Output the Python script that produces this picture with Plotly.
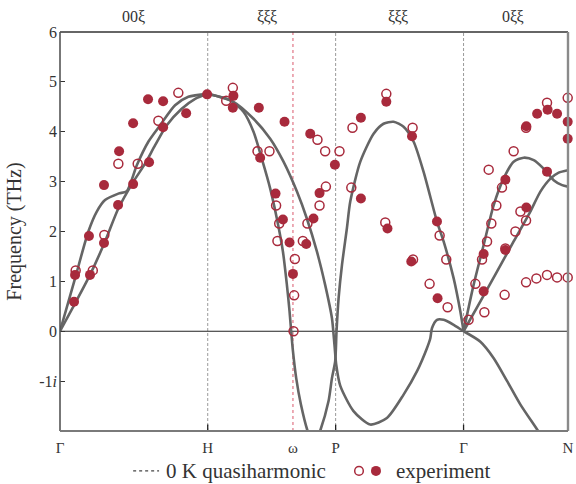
import plotly.graph_objects as go

# High-symmetry points along the bcc path Γ-H-P-Γ-N (cumulative path length, 2π/a)
sym_x = [0.0, 1.0, 1.577, 1.866, 2.732, 3.439]
sym_labels = ["Γ", "H", "ω", "P", "Γ", "N"]
dir_x = [0.495, 1.40, 2.285, 3.07]
dir_labels = ["00ξ", "ξξξ", "ξξξ", "0ξξ"]

# 0 K quasiharmonic branches (imaginary frequencies plotted as negative)
gh_a_x = [0, 0.102, 0.192, 0.249, 0.305, 0.395, 0.452, 0.520, 0.598, 0.678, 0.779, 0.869, 1.0]
gh_a_f = [0, 1.06, 2.00, 2.40, 2.63, 2.76, 2.81, 3.33, 3.80, 4.13, 4.53, 4.70, 4.76]
gh_b_x = [0, 0.102, 0.203, 0.305, 0.395, 0.497, 0.576, 0.644, 0.723, 0.824, 0.915, 1.0]
gh_b_f = [0, 0.56, 1.13, 1.80, 2.46, 3.00, 3.36, 3.73, 4.13, 4.46, 4.66, 4.76]

long_x = [1.0, 1.152, 1.242, 1.310, 1.369, 1.423, 1.468, 1.509, 1.536, 1.554, 1.565, 1.577,
          1.599, 1.631, 1.675, 1.717, 1.762, 1.818, 1.841, 1.863, 1.872, 1.886, 1.909, 1.942,
          1.965, 2.033, 2.123, 2.190, 2.258, 2.326, 2.394, 2.461, 2.552, 2.597, 2.665, 2.710, 2.732]
long_f = [4.76, 4.63, 4.40, 4.00, 3.43, 2.86, 2.26, 1.60, 0.93, 0.40, 0.0, -0.40,
          -0.94, -1.47, -1.99, -2.3, -1.99, -1.40, -0.94, -0.60, 0.0, 0.66, 1.33, 2.06,
          2.60, 3.40, 3.96, 4.16, 4.20, 4.10, 3.80, 3.20, 2.20, 1.80, 1.06, 0.40, 0.0]

trans_x = [1.0, 1.174, 1.310, 1.423, 1.513, 1.604, 1.671, 1.739, 1.795, 1.841, 1.858, 1.870,
           1.897, 1.987, 2.100, 2.213, 2.326, 2.417, 2.484, 2.507, 2.518, 2.552, 2.597, 2.665, 2.732]
trans_f = [4.76, 4.60, 4.26, 3.86, 3.40, 2.80, 2.26, 1.60, 0.93, 0.26, -0.27, -0.67,
           -1.09, -1.60, -1.87, -1.74, -1.27, -0.80, -0.34, -0.14, 0.06, 0.23, 0.23, 0.13, 0.0]

gn_a_x = [2.732, 2.800, 2.868, 2.936, 3.003, 3.071, 3.139, 3.207, 3.274, 3.342, 3.399, 3.439]
gn_a_f = [0, 0.93, 1.73, 2.53, 3.06, 3.40, 3.48, 3.43, 3.26, 3.03, 2.93, 2.90]
gn_b_x = [2.732, 2.846, 2.959, 3.071, 3.184, 3.252, 3.320, 3.376, 3.439]
gn_b_f = [0, 0.60, 1.20, 1.80, 2.40, 2.80, 3.06, 3.18, 3.23]
gn_c_x = [2.732, 2.846, 2.936, 3.027, 3.117, 3.230, 3.286]
gn_c_f = [0, -0.21, -0.54, -1.00, -1.47, -1.97, -2.23]

# Experiment: open symbols
open_x = [0.106, 0.222, 0.300, 0.395, 0.526, 0.666, 0.801,
          1.170, 1.125, 1.337, 1.418, 1.743, 1.795, 1.892, 1.463, 1.484, 1.472, 1.590, 1.585,
          1.581, 1.644, 1.675, 1.757, 1.800,
          2.209, 1.980, 2.387, 1.972, 2.202, 2.570, 2.390, 2.615, 2.502, 2.624,
          2.766, 2.812, 2.873, 2.857, 2.891, 2.920, 2.954, 2.992, 2.902, 3.071, 3.155, 3.297,
          3.437, 3.117, 3.155, 3.083, 3.015, 3.010, 3.155, 3.225, 3.297, 3.365, 3.437]
open_f = [1.22, 1.22, 1.93, 3.36, 3.36, 4.22, 4.78,
          4.88, 4.62, 3.61, 3.61, 3.84, 3.61, 3.61, 2.52, 2.16, 1.81, 1.45, 0.72,
          0.0, 1.81, 2.16, 2.52, 2.90,
          4.76, 4.08, 4.08, 2.88, 2.18, 1.92, 1.44, 1.44, 0.95, 0.48,
          0.23, 0.95, 0.38, 1.44, 1.80, 2.16, 2.52, 2.88, 3.24, 3.61, 4.08, 4.58,
          4.68, 2.40, 2.22, 2.00, 1.66, 0.73, 0.98, 1.06, 1.13, 1.08, 1.08]

# Experiment: filled symbols
filled_x = [0.095, 0.102, 0.196, 0.203, 0.298, 0.298, 0.393, 0.495, 0.400, 0.603, 0.495, 0.596,
            0.698, 0.698, 0.854, 0.996,
            1.174, 1.170, 1.346, 1.520, 1.355, 1.694, 1.861, 1.459, 1.509, 1.554, 1.577, 1.757,
            1.716, 1.667,
            2.209, 2.037, 2.383, 2.037, 2.217, 2.552, 2.378, 2.556,
            3.230, 3.301, 3.365, 3.437, 3.437, 3.157, 3.297, 3.015, 3.157, 2.868, 3.015, 2.868]
filled_f = [0.59, 1.13, 1.91, 1.13, 2.93, 1.77, 2.53, 2.95, 3.61, 3.39, 4.17, 4.65,
            4.61, 4.09, 4.37, 4.75,
            4.72, 4.48, 4.48, 4.20, 3.48, 3.96, 3.34, 2.76, 2.24, 1.78, 1.15, 2.77,
            2.26, 1.75,
            4.60, 4.28, 3.91, 2.66, 2.06, 2.20, 1.40, 0.66,
            4.36, 4.44, 4.36, 4.20, 3.86, 4.11, 3.20, 3.04, 2.48, 1.55, 1.63, 0.80]

y_ticks = [-1, 0, 1, 2, 3, 4, 5, 6]
y_ticktext = ["-1<i>i</i>", "0", "1", "2", "3", "4", "5", "6"]

FONT = "Liberation Serif"
CURVE = "#656565"
RED = "#a82a3c"
X_MAX = sym_x[-1]

fig = go.Figure()

for bx, bf in [(gh_a_x, gh_a_f), (gh_b_x, gh_b_f), (long_x, long_f), (trans_x, trans_f),
               (gn_a_x, gn_a_f), (gn_b_x, gn_b_f), (gn_c_x, gn_c_f)]:
    fig.add_trace(go.Scatter(x=bx, y=bf, mode="lines",
                             line=dict(color=CURVE, width=2.6, shape="spline", smoothing=0.7),
                             showlegend=False, hoverinfo="skip"))

fig.add_trace(go.Scatter(x=open_x, y=open_f, mode="markers", cliponaxis=False,
                         marker=dict(symbol="circle-open", size=9, color=RED,
                                     line=dict(width=1.5, color=RED)),
                         showlegend=False))
fig.add_trace(go.Scatter(x=filled_x, y=filled_f, mode="markers", cliponaxis=False,
                         marker=dict(symbol="circle", size=10, color=RED,
                                     line=dict(width=0)),
                         showlegend=False))

shapes = []
# zero-frequency line
shapes.append(dict(type="line", xref="x", yref="y", x0=0, x1=X_MAX, y0=0, y1=0,
                   line=dict(color="#222", width=1.2), layer="below"))
# high-symmetry separators
for sx in [sym_x[1], sym_x[3], sym_x[4]]:
    shapes.append(dict(type="line", xref="x", yref="paper", x0=sx, x1=sx, y0=0, y1=1,
                       line=dict(color="#9a9a9a", width=1, dash="3px,2px"), layer="below"))
shapes.append(dict(type="line", xref="x", yref="paper", x0=sym_x[2], x1=sym_x[2], y0=0, y1=1,
                   line=dict(color="#e07585", width=1.2, dash="dot"), layer="below"))
# bottom ticks
for sx in [sym_x[1], sym_x[3], sym_x[4]]:
    shapes.append(dict(type="line", xref="x", yref="paper", x0=sx, x1=sx, y0=0, y1=0.016,
                       line=dict(color="#222", width=1.3)))
# frame
shapes.append(dict(type="line", xref="paper", yref="paper", x0=0, x1=1, y0=1, y1=1,
                   line=dict(color="#333", width=1.5)))
shapes.append(dict(type="line", xref="paper", yref="paper", x0=0, x1=0, y0=0, y1=1,
                   line=dict(color="#555", width=1.6)))
shapes.append(dict(type="line", xref="paper", yref="paper", x0=1, x1=1, y0=0, y1=1,
                   line=dict(color="#8a8a8a", width=2.4)))
shapes.append(dict(type="line", xref="paper", yref="paper", x0=0, x1=1, y0=0, y1=0,
                   line=dict(color="#7a7a7a", width=2.2)))

# legend
leg_y = -0.100
shapes.append(dict(type="line", xref="paper", yref="paper", x0=0.144, x1=0.195,
                   y0=leg_y, y1=leg_y, line=dict(color="#444", width=1.3, dash="dot")))
shapes.append(dict(type="circle", xref="paper", yref="paper", xsizemode="pixel",
                   ysizemode="pixel", xanchor=0.5886, yanchor=leg_y, x0=-4.3, x1=4.3,
                   y0=-4.3, y1=4.3, line=dict(color=RED, width=1.5), fillcolor="white"))
shapes.append(dict(type="circle", xref="paper", yref="paper", xsizemode="pixel",
                   ysizemode="pixel", xanchor=0.622, yanchor=leg_y, x0=-5, x1=5,
                   y0=-5, y1=5, line=dict(color=RED, width=0), fillcolor=RED))

annotations = []
for dx, dl in zip(dir_x, dir_labels):
    annotations.append(dict(x=dx, y=1.038, xref="x", yref="paper", text=dl, showarrow=False,
                            font=dict(family=FONT, size=16, color="#333"),
                            xanchor="center", yanchor="middle"))
annotations.append(dict(x=0.206, y=leg_y, xref="paper", yref="paper",
                        text="0 K quasiharmonic", showarrow=False, xanchor="left",
                        yanchor="middle", borderpad=0,
                        font=dict(family=FONT, size=21, color="#333")))
annotations.append(dict(x=0.659, y=leg_y, xref="paper", yref="paper",
                        text="experiment", showarrow=False, xanchor="left",
                        yanchor="middle", borderpad=0,
                        font=dict(family=FONT, size=21, color="#333")))

fig.update_layout(
    width=576, height=484,
    margin=dict(l=60, r=8, t=32, b=53),
    paper_bgcolor="white", plot_bgcolor="white",
    shapes=shapes, annotations=annotations,
    font=dict(family=FONT, color="#333"),
    xaxis=dict(range=[0, X_MAX], tickvals=sym_x, ticktext=sym_labels, ticks="",
               showgrid=False, zeroline=False, showline=False, automargin=False,
               ticklabelstandoff=6,
               tickfont=dict(family=FONT, size=15, color="#333")),
    yaxis=dict(range=[-2, 6], tickvals=y_ticks, ticktext=y_ticktext, ticks="inside",
               ticklen=5, tickwidth=1.3, tickcolor="#333", automargin=False,
               ticklabelstandoff=2,
               showgrid=False, zeroline=False, showline=False,
               tickfont=dict(family=FONT, size=16, color="#333"),
               title=dict(text="Frequency (THz)", standoff=12,
                          font=dict(family=FONT, size=20, color="#333"))),
)

fig.write_html("out.html")
